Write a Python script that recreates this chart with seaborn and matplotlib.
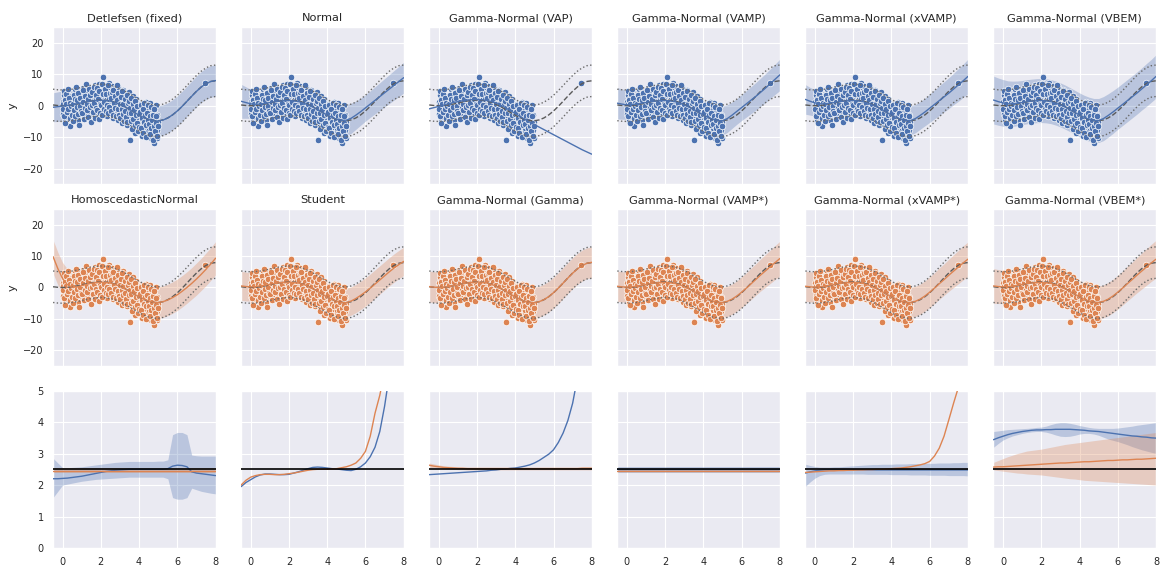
import matplotlib
matplotlib.use("Agg")
import matplotlib.pyplot as plt
import seaborn as sns

sns.set_theme(style="darkgrid", context="paper")
plt.rcParams['font.family'] = ['DejaVu Sans']

# ---------------- data ----------------
titles_top = ["Detlefsen (fixed)", "Normal", "Gamma-Normal (VAP)", "Gamma-Normal (VAMP)",
              "Gamma-Normal (xVAMP)", "Gamma-Normal (VBEM)"]
titles_mid = ["HomoscedasticNormal", "Student", "Gamma-Normal (Gamma)", "Gamma-Normal (VAMP*)",
              "Gamma-Normal (xVAMP*)", "Gamma-Normal (VBEM*)"]

grid_x = [-0.5, -0.25, 0, 0.25, 0.5, 0.75, 1, 1.25, 1.5, 1.75, 2, 2.25, 2.5, 2.75, 3, 3.25, 3.5,
          3.75, 4, 4.25, 4.5, 4.75, 5, 5.25, 5.5, 5.75, 6, 6.25, 6.5, 6.75, 7, 7.25, 7.5, 7.75, 8]
true_f = [0.24, 0.06, 0.0, 0.06, 0.24, 0.51, 0.84, 1.19, 1.50, 1.72, 1.82, 1.75, 1.50, 1.05, 0.42,
          -0.35, -1.23, -2.14, -3.03, -3.80, -4.40, -4.75, -4.79, -4.51, -3.88, -2.92, -1.68, -0.21,
          1.40, 3.04, 4.60, 5.97, 7.04, 7.71, 7.92]
true_std = 2.5

train_x = [0.01, 0.03, 0.04, 0.06, 0.09, 0.11, 0.13, 0.15, 0.17, 0.19, 0.22, 0.24, 0.27, 0.29, 0.32, 0.35, 0.38, 0.41, 0.44, 0.48,
           0.51, 0.53, 0.56, 0.58, 0.61, 0.63, 0.66, 0.68, 0.71, 0.73, 0.76, 0.78, 0.81, 0.84, 0.86, 0.89, 0.91, 0.94, 0.96, 0.99,
           1.01, 1.04, 1.06, 1.08, 1.11, 1.13, 1.16, 1.18, 1.21, 1.24, 1.26, 1.29, 1.31, 1.34, 1.36, 1.39, 1.42, 1.44, 1.47, 1.49,
           1.51, 1.53, 1.56, 1.58, 1.61, 1.63, 1.66, 1.69, 1.71, 1.74, 1.76, 1.79, 1.81, 1.84, 1.86, 1.89, 1.92, 1.94, 1.97, 1.99,
           2.02, 2.04, 2.07, 2.09, 2.12, 2.14, 2.17, 2.19, 2.22, 2.24, 2.27, 2.29, 2.32, 2.34, 2.37, 2.39, 2.42, 2.44, 2.47, 2.49,
           2.51, 2.54, 2.56, 2.59, 2.61, 2.64, 2.66, 2.69, 2.71, 2.74, 2.76, 2.79, 2.81, 2.84, 2.86, 2.89, 2.91, 2.94, 2.96, 2.99,
           3.01, 3.04, 3.06, 3.09, 3.11, 3.14, 3.16, 3.19, 3.21, 3.24, 3.26, 3.29, 3.31, 3.34, 3.36, 3.39, 3.41, 3.44, 3.47, 3.49,
           3.51, 3.53, 3.56, 3.58, 3.61, 3.63, 3.66, 3.68, 3.71, 3.74, 3.76, 3.79, 3.81, 3.84, 3.86, 3.89, 3.91, 3.94, 3.96, 3.99,
           4.01, 4.04, 4.06, 4.09, 4.11, 4.14, 4.16, 4.19, 4.21, 4.24, 4.26, 4.29, 4.31, 4.34, 4.36, 4.39, 4.41, 4.44, 4.47, 4.49,
           4.51, 4.53, 4.56, 4.58, 4.61, 4.63, 4.66, 4.68, 4.71, 4.73, 4.76, 4.78, 4.81, 4.84, 4.86, 4.89, 4.91, 4.94, 4.96, 4.99,
           0.02, 0.05, 0.08, 0.10, 0.14, 0.16, 0.20, 0.23, 0.26, 0.30, 0.33, 0.37, 0.40, 0.43, 0.47,
           0.52, 0.55, 0.57, 0.60, 0.64, 0.67, 0.70, 0.74, 0.77, 0.80, 0.83, 0.87, 0.90, 0.93, 0.97,
           1.02, 1.05, 1.09, 1.12, 1.15, 1.19, 1.22, 1.25, 1.28, 1.32, 1.35, 1.38, 1.41, 1.45, 1.48,
           1.52, 1.55, 1.59, 1.62, 1.65, 1.68, 1.72, 1.75, 1.78, 1.82, 1.85, 1.88, 1.91, 1.95, 1.98,
           2.01, 2.05, 2.08, 2.11, 2.15, 2.18, 2.21, 2.25, 2.28, 2.31, 2.35, 2.38, 2.41, 2.45, 2.48,
           2.52, 2.55, 2.58, 2.62, 2.65, 2.68, 2.72, 2.75, 2.78, 2.82, 2.85, 2.88, 2.92, 2.95, 2.98,
           3.02, 3.05, 3.08, 3.12, 3.15, 3.18, 3.22, 3.25, 3.28, 3.32, 3.35, 3.38, 3.42, 3.45, 3.48,
           3.52, 3.55, 3.57, 3.60, 3.64, 3.67, 3.70, 3.73, 3.77, 3.80, 3.83, 3.87, 3.90, 3.93, 3.97,
           4.02, 4.05, 4.08, 4.12, 4.15, 4.18, 4.22, 4.25, 4.28, 4.32, 4.35, 4.38, 4.42, 4.45, 4.48,
           4.52, 4.55, 4.57, 4.60, 4.64, 4.67, 4.70, 4.74, 4.77, 4.80, 4.83, 4.87, 4.90, 4.93, 4.97]
train_y = [1.3, -2.6, 0.5, 3.4, -1.2, -4.8, 2.1, -0.4, 0.9, -2.9, 4.1, -0.8, 1.7, -3.5, 0.2, 2.6, -6.3, -1.6, 0.7, 3.0,
           -1.8, 2.4, 0.3, -3.9, 1.6, 5.2, -0.6, 2.9, -2.2, 0.9, 3.8, -4.6, 1.2, -1.0, 4.5, 0.1, -2.7, 2.2, -0.3, 3.3,
           3.6, -1.4, 0.8, 5.5, -2.6, 2.0, -0.2, 4.4, 1.1, -3.0, 2.7, -0.9, 6.1, 0.4, -1.8, 3.2, 1.5, -2.4, 4.7, 0.0,
           2.8, -1.0, 5.0, 0.6, -2.9, 3.7, 1.4, 6.6, -0.5, 2.3, -1.9, 4.2, 0.9, -3.1, 2.7, 7.0, 0.2, 3.9, -1.2, 1.8,
           4.6, -0.8, 2.2, 9.2, -1.6, 5.8, 0.7, 3.1, -2.5, 1.9, 6.4, -0.1, 2.8, -3.2, 4.3, 0.5, 7.2, -1.1, 2.4, 5.1,
           -0.6, 3.9, 1.2, 6.3, -2.0, 2.5, -3.8, 4.8, 0.3, -1.3, 5.6, 1.6, -2.7, 3.4, -0.4, 6.0, -4.5, 1.0, 2.9, -1.7,
           3.5, -1.9, 0.8, -5.6, 2.2, -0.3, 5.1, -3.2, 1.4, -2.1, 3.9, -0.8, -4.6, 1.7, -6.0, 2.9, 0.2, -2.9, 4.2, -1.5,
           -11.0, 1.8, -3.6, 0.4, -5.8, -1.2, 3.2, -2.4, -6.9, 0.9, -3.9, -0.6, -8.6, 2.2, -2.8, -4.7, 0.1, -7.5, -1.9, -4.0,
           -1.0, -5.4, -8.2, -2.6, 0.6, -4.3, -9.6, -3.3, -6.4, -0.5, -7.8, -2.1, -4.9, 1.2, -6.9, -3.6, -9.0, -1.4, -5.6, -8.1,
           -2.5, -7.2, 0.9, -5.0, -10.2, -3.8, -6.6, -1.5, -8.4, -4.4, -11.8, -2.2, -6.0, -9.3, 0.3, -4.8, -7.6, -3.0, -10.4, -5.3,
           -0.9, 4.6, -3.3, 1.9, -5.6, 0.4, 3.7, -2.1, 5.3, -1.1, 2.4, -4.0, 1.0, -0.2, -3.0,
           0.7, -5.0, 3.5, -1.3, 2.0, -3.4, 5.9, -0.4, 1.8, -2.5, 4.0, -6.2, 2.6, 0.0, -1.6,
           -2.2, 4.9, 1.3, -4.1, 3.0, -0.7, 6.8, 0.6, -1.5, 2.1, -3.6, 5.4, -0.3, 3.4, -5.1,
           0.3, 4.4, -2.0, 6.0, 1.0, -3.8, 3.3, -0.6, 5.6, -1.5, 2.2, -4.3, 4.8, 0.7, -2.3,
           0.1, 6.9, -2.9, 3.6, 1.1, -0.9, 5.2, -1.8, 3.8, 0.3, 6.5, -2.2, 2.0, -0.5, 4.0,
           2.4, -1.7, 4.5, -3.1, 5.0, 0.8, -0.6, 3.0, -3.3, 6.6, 1.9, -1.0, 4.1, -2.8, 0.7,
           -3.8, 2.7, -0.9, 4.6, -2.5, 0.5, -4.9, 2.1, -1.6, -3.7, 3.4, -5.2, 0.9, -2.3, 1.6,
           -0.8, -4.9, 2.6, -2.2, -7.4, 0.6, -4.3, -1.0, -6.1, 1.5, -3.0, -5.5, -0.2, -8.0, -2.6,
           -6.8, -2.0, 0.2, -7.0, -4.0, -1.0, -8.8, -5.1, 0.8, -3.0, -10.0, -6.0, -2.4, -4.4, 0.1,
           -5.9, -9.0, -3.2, -0.4, -7.0, -4.6, -10.8, -2.8, -6.4, -1.0, -8.0, -5.5, -3.4, -9.7, -6.5]
test_x = [7.46]
test_y = [7.1]

# predictive means (rows 1-2) and half-widths of the shaded band
mean_detlefsen = [-0.5, -0.3, -0.1, 0.1, 0.3, 0.6, 0.9, 1.2, 1.45, 1.65, 1.75, 1.7, 1.45, 1.0, 0.4,
                  -0.35, -1.2, -2.1, -3.0, -3.8, -4.4, -4.8, -4.85, -4.55, -3.9, -2.9, -1.65, -0.2, 1.4, 3.0,
                  4.55, 5.95, 7.0, 7.7, 8.0]
hw_detlefsen = [4.6, 4.7, 4.8, 4.8, 4.8, 4.8, 4.8, 4.8, 4.8, 4.8, 4.8, 4.8, 4.8, 4.8, 4.8, 4.8, 4.8, 4.8,
                4.8, 4.8, 4.8, 4.8, 4.8, 4.8, 4.8, 4.8, 4.8, 4.8, 4.8, 4.8, 4.9, 4.9, 5.0, 5.0, 5.0]
mean_normal = [1.4, 1.0, 0.6, 0.45, 0.5, 0.7, 1.0, 1.25, 1.45, 1.6, 1.65, 1.55, 1.3, 0.85, 0.25,
               -0.45, -1.25, -2.1, -2.95, -3.7, -4.3, -4.65, -4.6, -4.0, -3.0, -1.9, -0.7, 0.5, 1.7, 2.9,
               4.1, 5.3, 6.5, 7.7, 8.9]
hw_normal = [5.4, 5.0, 4.6, 4.3, 4.1, 4.0, 4.0, 4.0, 4.0, 4.0, 4.0, 4.0, 4.1, 4.2, 4.3, 4.4, 4.5, 4.6,
             4.7, 4.8, 4.9, 5.0, 5.0, 4.8, 4.5, 4.3, 4.2, 4.2, 4.3, 4.4, 4.5, 4.6, 4.7, 4.8, 4.9]
mean_vap = [-1.0, -0.6, -0.2, 0.2, 0.6, 1.0, 1.3, 1.6, 1.8, 1.95, 2.0, 1.9, 1.7, 1.3, 0.8,
            0.1, -0.7, -1.6, -2.5, -3.4, -4.3, -5.2, -6.0, -6.8, -7.6, -8.4, -9.2, -10.0, -10.8, -11.6,
            -12.4, -13.2, -14.0, -14.7, -15.4]
hw_vap = [0.0] * 35
mean_vamp = [0.8, 0.5, 0.3, 0.35, 0.5, 0.75, 1.0, 1.25, 1.45, 1.6, 1.65, 1.55, 1.3, 0.85, 0.25,
             -0.45, -1.25, -2.1, -2.95, -3.7, -4.3, -4.7, -4.75, -4.1, -3.0, -1.8, -0.6, 0.6, 1.8, 3.0,
             4.3, 5.6, 7.0, 8.4, 9.8]
hw_vamp = [5.0, 4.8, 4.6, 4.5, 4.4, 4.4, 4.4, 4.4, 4.4, 4.4, 4.4, 4.4, 4.4, 4.4, 4.4, 4.4, 4.4, 4.4,
           4.5, 4.5, 4.6, 4.6, 4.6, 4.4, 4.2, 4.1, 4.1, 4.2, 4.3, 4.4, 4.5, 4.6, 4.7, 4.8, 5.0]
mean_xvamp = [2.0, 1.4, 0.9, 0.6, 0.6, 0.75, 1.0, 1.25, 1.45, 1.6, 1.65, 1.55, 1.3, 0.85, 0.25,
              -0.45, -1.25, -2.1, -2.95, -3.7, -4.3, -4.7, -4.7, -4.1, -3.1, -2.0, -0.8, 0.4, 1.6, 2.8,
              4.0, 5.3, 6.6, 7.9, 9.3]
hw_xvamp = [4.7, 4.4, 4.2, 4.0, 4.0, 4.0, 4.0, 4.0, 4.0, 4.0, 4.0, 4.0, 4.0, 4.0, 4.1, 4.2, 4.3, 4.4,
            4.5, 4.6, 4.7, 4.7, 4.6, 4.5, 4.4, 4.4, 4.5, 4.6, 4.7, 4.8, 4.9, 5.0, 5.2, 5.3, 5.5]
mean_vbem = [1.8, 1.3, 0.9, 0.6, 0.6, 0.75, 1.0, 1.25, 1.45, 1.6, 1.65, 1.55, 1.3, 0.85, 0.25,
             -0.45, -1.25, -2.1, -2.95, -3.7, -4.3, -4.7, -4.7, -4.1, -3.1, -2.0, -0.8, 0.4, 1.6, 2.8,
             4.0, 5.3, 6.6, 7.9, 9.3]
hw_vbem = [7.6, 7.5, 7.4, 7.3, 7.2, 7.1, 7.0, 7.0, 7.0, 7.0, 7.0, 7.0, 7.0, 7.0, 7.0, 7.0, 7.0, 7.0,
           7.0, 7.0, 7.0, 7.0, 7.0, 7.0, 6.9, 6.8, 6.7, 6.7, 6.7, 6.7, 6.7, 6.7, 6.8, 6.8, 6.9]

mean_homo = [9.8, 6.0, 2.8, 0.9, 0.1, 0.2, 0.6, 1.0, 1.35, 1.6, 1.7, 1.65, 1.4, 0.95, 0.35,
             -0.4, -1.25, -2.1, -2.95, -3.7, -4.3, -4.7, -4.75, -4.5, -3.95, -3.2, -2.3, -1.2, 0.0, 1.3,
             2.7, 4.2, 5.8, 7.5, 9.3]
hw_homo = [5.3, 5.2, 5.1, 5.0, 5.0, 5.0, 5.0, 5.0, 5.0, 5.0, 5.0, 5.0, 5.0, 5.0, 5.0, 5.0, 5.0, 5.0,
           5.0, 5.0, 5.0, 5.0, 5.0, 5.0, 5.0, 5.0, 5.0, 5.0, 5.0, 5.0, 5.1, 5.1, 5.2, 5.2, 5.3]
mean_student = [0.5, 0.3, 0.2, 0.3, 0.5, 0.7, 1.0, 1.3, 1.5, 1.7, 1.7, 1.6, 1.4, 1.0, 0.4,
                -0.4, -1.2, -2.1, -3.0, -3.8, -4.4, -4.8, -4.8, -4.3, -3.5, -2.5, -1.4, -0.2, 1.1, 2.4,
                3.7, 5.0, 6.2, 7.3, 8.3]
hw_student = [4.6, 4.6, 4.5, 4.5, 4.5, 4.5, 4.5, 4.5, 4.5, 4.5, 4.5, 4.5, 4.5, 4.5, 4.5, 4.5, 4.5, 4.5,
              4.5, 4.5, 4.5, 4.5, 4.5, 4.5, 4.5, 4.5, 4.5, 4.5, 4.5, 4.5, 4.5, 4.5, 4.5, 4.5, 4.5]
mean_gamma = [0.3, 0.1, 0.0, 0.1, 0.3, 0.55, 0.85, 1.15, 1.45, 1.65, 1.75, 1.7, 1.45, 1.0, 0.4,
              -0.35, -1.2, -2.1, -3.0, -3.8, -4.4, -4.75, -4.8, -4.5, -3.85, -2.9, -1.65, -0.2, 1.4, 3.0,
              4.55, 5.9, 7.0, 7.7, 8.0]
hw_gamma = [4.9] * 35
mean_vamps = [0.4, 0.2, 0.1, 0.2, 0.4, 0.65, 0.95, 1.25, 1.45, 1.6, 1.65, 1.55, 1.3, 0.9, 0.3,
              -0.45, -1.25, -2.1, -2.95, -3.75, -4.35, -4.7, -4.75, -4.4, -3.7, -2.7, -1.5, -0.2, 1.2, 2.6,
              4.0, 5.3, 6.6, 7.9, 9.2]
hw_vamps = [4.8, 4.8, 4.8, 4.8, 4.8, 4.8, 4.8, 4.8, 4.8, 4.8, 4.8, 4.8, 4.8, 4.8, 4.8, 4.8, 4.8, 4.8,
            4.8, 4.8, 4.8, 4.8, 4.8, 4.8, 4.8, 4.8, 4.9, 4.9, 5.0, 5.0, 5.1, 5.2, 5.3, 5.4, 5.5]
mean_xvamps = [0.4, 0.2, 0.1, 0.2, 0.4, 0.65, 0.95, 1.25, 1.45, 1.6, 1.65, 1.55, 1.3, 0.9, 0.3,
               -0.45, -1.25, -2.1, -2.95, -3.75, -4.35, -4.7, -4.75, -4.4, -3.7, -2.7, -1.5, -0.2, 1.2, 2.5,
               3.9, 5.2, 6.5, 7.8, 9.0]
hw_xvamps = hw_vamps
mean_vbems = [0.5, 0.3, 0.2, 0.25, 0.4, 0.65, 0.95, 1.25, 1.45, 1.6, 1.65, 1.55, 1.3, 0.9, 0.3,
              -0.45, -1.25, -2.1, -2.95, -3.75, -4.35, -4.7, -4.75, -4.4, -3.7, -2.7, -1.5, -0.2, 1.2, 2.5,
              3.9, 5.2, 6.5, 7.8, 9.0]
hw_vbems = [5.5, 5.4, 5.3, 5.2, 5.2, 5.2, 5.2, 5.2, 5.2, 5.2, 5.2, 5.2, 5.2, 5.2, 5.2, 5.2, 5.2, 5.2,
            5.2, 5.2, 5.2, 5.2, 5.2, 5.2, 5.3, 5.3, 5.4, 5.4, 5.5, 5.5, 5.6, 5.7, 5.8, 5.9, 6.0]

# predicted noise std (row 3): blue = top-row model, orange = middle-row model
std_b1 = [2.2, 2.2, 2.21, 2.22, 2.24, 2.26, 2.28, 2.31, 2.34, 2.37, 2.4, 2.43, 2.45, 2.47, 2.48,
          2.49, 2.5, 2.5, 2.5, 2.5, 2.5, 2.5, 2.5, 2.5, 2.52, 2.6, 2.63, 2.62, 2.58, 2.42,
          2.38, 2.36, 2.34, 2.32, 2.3]
std_b1_lo = [1.6, 1.8, 2.0, 2.03, 2.06, 2.09, 2.12, 2.14, 2.16, 2.18, 2.19, 2.2, 2.21, 2.22, 2.23,
             2.24, 2.25, 2.25, 2.25, 2.25, 2.25, 2.25, 2.25, 2.25, 2.2, 1.6, 1.55, 1.55, 1.6, 1.9,
             1.85, 1.8, 1.77, 1.74, 1.72]
std_b1_hi = [2.85, 2.7, 2.55, 2.55, 2.56, 2.57, 2.58, 2.6, 2.62, 2.64, 2.66, 2.68, 2.7, 2.72, 2.73,
             2.74, 2.75, 2.75, 2.75, 2.75, 2.75, 2.75, 2.76, 2.76, 2.8, 3.6, 3.67, 3.67, 3.6, 2.95,
             2.93, 2.92, 2.92, 2.92, 2.92]
std_o1 = [2.45] * 35
std_o1_lo = [2.38] * 35
std_o1_hi = [2.54] * 35

std_b2 = [1.95, 2.08, 2.17, 2.26, 2.32, 2.35, 2.35, 2.34, 2.33, 2.33, 2.34, 2.38, 2.42, 2.47, 2.52,
          2.56, 2.57, 2.56, 2.54, 2.52, 2.51, 2.49, 2.47, 2.46, 2.5, 2.58, 2.7, 2.9, 3.2, 3.7,
          4.5, 5.5, 6.8, 8.3, 10.0]
std_o2 = [2.0, 2.15, 2.25, 2.3, 2.33, 2.34, 2.34, 2.33, 2.33, 2.34, 2.36, 2.38, 2.41, 2.44, 2.47,
          2.49, 2.5, 2.5, 2.5, 2.51, 2.52, 2.55, 2.58, 2.63, 2.7, 2.85, 3.07, 3.55, 4.28, 4.85,
          5.6, 6.5, 7.5, 8.6, 10.0]

std_b3 = [2.33, 2.34, 2.35, 2.36, 2.37, 2.38, 2.39, 2.4, 2.41, 2.42, 2.43, 2.44, 2.45, 2.47, 2.48,
          2.5, 2.51, 2.53, 2.54, 2.57, 2.6, 2.64, 2.7, 2.78, 2.88, 2.98, 3.12, 3.35, 3.65, 4.05,
          4.6, 5.4, 6.5, 8.0, 10.0]
std_o3 = [2.63, 2.6, 2.58, 2.56, 2.55, 2.54, 2.53, 2.53, 2.52, 2.52, 2.52, 2.52, 2.52, 2.52, 2.52,
          2.52, 2.52, 2.52, 2.52, 2.52, 2.52, 2.52, 2.52, 2.52, 2.52, 2.52, 2.52, 2.52, 2.52, 2.52,
          2.52, 2.52, 2.53, 2.53, 2.53]
std_o3_lo = [2.56, 2.55, 2.54, 2.52, 2.51, 2.5, 2.49, 2.49, 2.48, 2.48, 2.48, 2.48, 2.48, 2.48, 2.48,
             2.48, 2.48, 2.48, 2.48, 2.48, 2.48, 2.48, 2.48, 2.48, 2.48, 2.48, 2.48, 2.48, 2.48, 2.48,
             2.48, 2.48, 2.48, 2.48, 2.48]
std_o3_hi = [2.7, 2.67, 2.64, 2.61, 2.6, 2.59, 2.58, 2.57, 2.57, 2.57, 2.57, 2.57, 2.57, 2.57, 2.57,
             2.57, 2.57, 2.57, 2.57, 2.57, 2.57, 2.57, 2.57, 2.57, 2.57, 2.57, 2.57, 2.57, 2.57, 2.57,
             2.57, 2.57, 2.58, 2.58, 2.58]

std_b4 = [2.5] * 35
std_b4_lo = [2.39] * 35
std_b4_hi = [2.57] * 35
std_o4 = [2.44] * 35
std_o4_lo = [2.4] * 35
std_o4_hi = [2.49] * 35

std_b5 = [2.38, 2.42, 2.45, 2.47, 2.48, 2.48, 2.48, 2.48, 2.48, 2.48, 2.48, 2.48, 2.48, 2.48, 2.48,
          2.48, 2.48, 2.48, 2.48, 2.48, 2.48, 2.48, 2.48, 2.48, 2.48, 2.48, 2.48, 2.48, 2.48, 2.48,
          2.48, 2.48, 2.48, 2.48, 2.48]
std_b5_lo = [1.96, 2.1, 2.22, 2.3, 2.34, 2.35, 2.35, 2.35, 2.35, 2.35, 2.35, 2.35, 2.35, 2.34, 2.34,
             2.34, 2.34, 2.34, 2.33, 2.33, 2.33, 2.33, 2.32, 2.32, 2.32, 2.32, 2.31, 2.31, 2.31, 2.31,
             2.3, 2.3, 2.3, 2.3, 2.29]
std_b5_hi = [2.66, 2.62, 2.59, 2.57, 2.57, 2.57, 2.58, 2.58, 2.59, 2.6, 2.61, 2.62, 2.63, 2.64, 2.65,
             2.65, 2.66, 2.66, 2.66, 2.67, 2.67, 2.67, 2.68, 2.68, 2.68, 2.69, 2.69, 2.69, 2.7, 2.7,
             2.7, 2.71, 2.71, 2.72, 2.72]
std_o5 = [2.4, 2.41, 2.42, 2.43, 2.44, 2.45, 2.45, 2.46, 2.46, 2.47, 2.47, 2.48, 2.48, 2.49, 2.49,
          2.5, 2.5, 2.51, 2.52, 2.53, 2.54, 2.56, 2.58, 2.61, 2.64, 2.68, 2.75, 2.92, 3.17, 3.55,
          4.07, 4.6, 5.1, 7.0, 9.0]

std_b6 = [3.44, 3.5, 3.55, 3.6, 3.64, 3.67, 3.7, 3.72, 3.74, 3.75, 3.75, 3.76, 3.76, 3.77, 3.77,
          3.77, 3.77, 3.76, 3.75, 3.74, 3.72, 3.71, 3.7, 3.68, 3.66, 3.64, 3.62, 3.6, 3.58, 3.56,
          3.55, 3.53, 3.52, 3.5, 3.49]
std_b6_lo = [3.2, 3.32, 3.43, 3.5, 3.56, 3.6, 3.64, 3.67, 3.69, 3.7, 3.7, 3.68, 3.64, 3.59, 3.55,
             3.54, 3.55, 3.58, 3.62, 3.64, 3.64, 3.62, 3.58, 3.52, 3.46, 3.42, 3.38, 3.33, 3.28, 3.22,
             3.17, 3.12, 3.08, 3.04, 3.01]
std_b6_hi = [3.7, 3.72, 3.74, 3.76, 3.77, 3.78, 3.79, 3.8, 3.81, 3.83, 3.84, 3.87, 3.92, 3.96, 3.98,
             3.98, 3.96, 3.93, 3.89, 3.86, 3.83, 3.81, 3.8, 3.8, 3.8, 3.8, 3.81, 3.83, 3.85, 3.87,
             3.9, 3.92, 3.94, 3.96, 3.98]
std_o6 = [2.57, 2.58, 2.58, 2.59, 2.6, 2.61, 2.62, 2.63, 2.64, 2.65, 2.66, 2.67, 2.68, 2.69, 2.7,
          2.7, 2.71, 2.72, 2.73, 2.74, 2.74, 2.75, 2.76, 2.77, 2.78, 2.78, 2.79, 2.8, 2.8, 2.81,
          2.82, 2.82, 2.83, 2.84, 2.85]
std_o6_lo = [2.48, 2.46, 2.44, 2.42, 2.4, 2.38, 2.37, 2.35, 2.34, 2.33, 2.32, 2.3, 2.28, 2.26, 2.24,
             2.22, 2.2, 2.19, 2.17, 2.15, 2.14, 2.13, 2.12, 2.11, 2.1, 2.09, 2.08, 2.07, 2.06, 2.05,
             2.04, 2.03, 2.02, 2.01, 2.0]
std_o6_hi = [2.72, 2.78, 2.84, 2.9, 2.95, 3.0, 3.04, 3.08, 3.1, 3.12, 3.14, 3.17, 3.2, 3.23, 3.26,
             3.29, 3.31, 3.33, 3.35, 3.37, 3.39, 3.41, 3.43, 3.45, 3.47, 3.49, 3.51, 3.53, 3.55, 3.57,
             3.59, 3.61, 3.63, 3.65, 3.67]

# ---------------- figure ----------------
BLUE, ORANGE = sns.color_palette("deep")[0], sns.color_palette("deep")[1]

top_models = [(mean_detlefsen, hw_detlefsen), (mean_normal, hw_normal), (mean_vap, hw_vap),
              (mean_vamp, hw_vamp), (mean_xvamp, hw_xvamp), (mean_vbem, hw_vbem)]
mid_models = [(mean_homo, hw_homo), (mean_student, hw_student), (mean_gamma, hw_gamma),
              (mean_vamps, hw_vamps), (mean_xvamps, hw_xvamps), (mean_vbems, hw_vbems)]
std_panels = [
    [(std_b1, std_b1_lo, std_b1_hi, BLUE), (std_o1, std_o1_lo, std_o1_hi, ORANGE)],
    [(std_b2, None, None, BLUE), (std_o2, None, None, ORANGE)],
    [(std_b3, None, None, BLUE), (std_o3, std_o3_lo, std_o3_hi, ORANGE)],
    [(std_b4, std_b4_lo, std_b4_hi, BLUE), (std_o4, std_o4_lo, std_o4_hi, ORANGE)],
    [(std_b5, std_b5_lo, std_b5_hi, BLUE), (std_o5, None, None, ORANGE)],
    [(std_b6, std_b6_lo, std_b6_hi, BLUE), (std_o6, std_o6_lo, std_o6_hi, ORANGE)],
]

fig, axes = plt.subplots(3, 6, figsize=(11.61, 5.71), dpi=100, sharex=True)
fig.subplots_adjust(left=0.0457, right=0.9957, top=0.9527, bottom=0.0403, wspace=0.157, hspace=0.155)

true_hi = [v + 2 * true_std for v in true_f]
true_lo = [v - 2 * true_std for v in true_f]

TICK_FS = 7
TITLE_FS = 8.2


def draw_fit(ax, mean, hw, color, title):
    lo = [m - h for m, h in zip(mean, hw)]
    hi = [m + h for m, h in zip(mean, hw)]
    if max(hw) > 0:
        ax.fill_between(grid_x, lo, hi, color=color, alpha=0.3, lw=0, zorder=1)
    sns.scatterplot(x=train_x, y=train_y, ax=ax, color=color, s=22, edgecolor="white",
                    linewidth=0.5, zorder=2, legend=False)
    sns.scatterplot(x=test_x, y=test_y, ax=ax, color=color, s=22, edgecolor="white",
                    linewidth=0.5, zorder=2, legend=False)
    sns.lineplot(x=grid_x, y=true_hi, ax=ax, color="#6b6b6b", lw=1.0, ls=":", zorder=3)
    sns.lineplot(x=grid_x, y=true_lo, ax=ax, color="#6b6b6b", lw=1.0, ls=":", zorder=3)
    sns.lineplot(x=grid_x, y=true_f, ax=ax, color="#5a5a5a", lw=1.0, ls="--", zorder=3)
    sns.lineplot(x=grid_x, y=mean, ax=ax, color=color, lw=1.0, zorder=4)
    ax.set_ylim(-25, 25)
    ax.set_yticks([-20, -10, 0, 10, 20])
    ax.set_title(title, fontsize=TITLE_FS, pad=4)


for j in range(6):
    draw_fit(axes[0, j], top_models[j][0], top_models[j][1], BLUE, titles_top[j])
    draw_fit(axes[1, j], mid_models[j][0], mid_models[j][1], ORANGE, titles_mid[j])
    ax = axes[2, j]
    for m, lo, hi, c in std_panels[j]:
        if lo is not None:
            ax.fill_between(grid_x, lo, hi, color=c, alpha=0.3, lw=0, zorder=1)
    for m, lo, hi, c in std_panels[j]:
        sns.lineplot(x=grid_x, y=m, ax=ax, color=c, lw=1.0, zorder=3)
    ax.axhline(true_std, color="black", lw=1.2, zorder=4)
    ax.set_ylim(0, 5)
    ax.set_yticks([0, 1, 2, 3, 4, 5])

for r in range(3):
    for j in range(6):
        ax = axes[r, j]
        ax.set_xlim(-0.5, 8)
        ax.set_xticks([0, 2, 4, 6, 8])
        ax.tick_params(labelsize=TICK_FS, pad=2)
        ax.set_xlabel("")
        if j == 0 and r < 2:
            ax.set_ylabel("y", fontsize=8)
        else:
            ax.set_ylabel("")
        if j > 0:
            ax.tick_params(labelleft=False)

fig.savefig("out.png", dpi=100)
